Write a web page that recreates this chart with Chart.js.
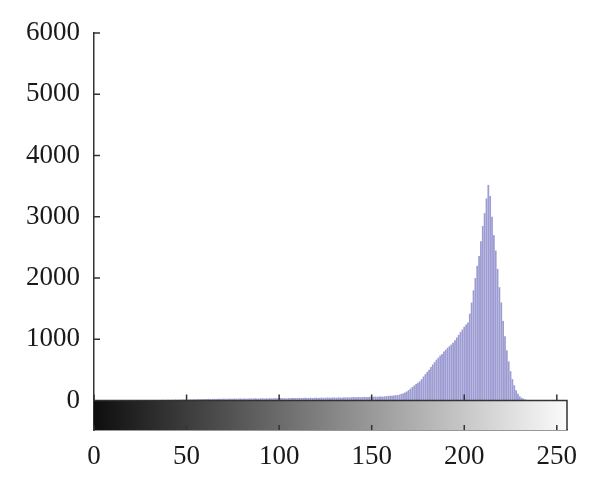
<!DOCTYPE html>
<html>
<head>
<meta charset="utf-8">
<script src="https://cdn.jsdelivr.net/npm/chart.js@4/dist/chart.umd.min.js"></script>
<style>
  html, body { margin: 0; padding: 0; background: #fff; }
  #wrap { width: 600px; height: 486px; }
</style>
</head>
<body>
<div id="wrap"><canvas id="myChart" width="600" height="486"></canvas></div>
<script>
// histogram counts for grey levels 0..255
const counts = [
  0, 0, 0, 0, 0, 0, 0, 0, 0, 0, 0, 0, 0, 0, 0, 0,
  0, 0, 0, 0, 0, 0, 0, 0, 0, 0, 0, 0, 0, 0, 3, 5,
  6, 4, 8, 10, 7, 12, 9, 11, 14, 10, 13, 12, 15, 11, 16, 14,
  17, 15, 19, 16, 20, 18, 22, 19, 24, 21, 25, 23, 26, 24, 28, 25,
  27, 30, 26, 29, 31, 28, 32, 30, 27, 33, 31, 29, 34, 30, 32, 35,
  31, 36, 33, 30, 37, 34, 32, 38, 35, 33, 36, 39, 34, 37, 35, 40,
  36, 38, 41, 37, 39, 42, 38, 40, 36, 43, 39, 41, 44, 40, 42, 45,
  41, 43, 46, 42, 44, 47, 43, 45, 48, 44, 46, 49, 45, 47, 50, 48,
  46, 51, 49, 47, 52, 50, 48, 53, 51, 55, 52, 54, 57, 53, 56, 59,
  55, 58, 61, 57, 60, 63, 59, 62, 66, 61, 65, 68, 64, 70, 73, 76,
  80, 78, 85, 90, 88, 98, 110, 118, 132, 150, 172, 196, 222, 248, 272, 292,
  315, 350, 392, 430, 470, 505, 548, 590, 628, 668, 700, 735, 762, 800, 830, 862,
  888, 915, 945, 985, 1030, 1075, 1120, 1160, 1205, 1240, 1275, 1420, 1600, 1800, 2000, 2200,
  2360, 2600, 2850, 3060, 3300, 3520, 3340, 3000, 2700, 2450, 2150, 1850, 1600, 1300, 1050, 820,
  640, 480, 350, 250, 170, 110, 70, 45, 30, 18, 10, 5, 0, 0, 0, 0,
  0, 0, 0, 0, 0, 0, 0, 0, 0, 0, 0, 0, 0, 0, 0, 0
];
const greyLevels = counts.map((c, i) => i);
const xTicks = [0, 50, 100, 150, 200, 250];
const yTicks = [0, 1000, 2000, 3000, 4000, 5000, 6000];

const axisColor = "#333";

// grey ramp under the zero line, plus box and inward tick marks
const rampPlugin = {
  id: "ramp",
  beforeDatasetsDraw(chart) {
    const { ctx, chartArea, scales } = chart;
    const left = chartArea.left, right = chartArea.right;
    const top = scales.y.getPixelForValue(0), bottom = chartArea.bottom;
    const grad = ctx.createLinearGradient(left, 0, right, 0);
    grad.addColorStop(0, "#0e0e0e");
    grad.addColorStop(1, "#fbfbfb");
    ctx.save();
    ctx.fillStyle = grad;
    ctx.fillRect(left, top, right - left, bottom - top);
    ctx.restore();
  },
  afterDatasetsDraw(chart) {
    const { ctx, chartArea, scales } = chart;
    const x = scales.x, y = scales.y;
    const left = chartArea.left, right = chartArea.right;
    const top = y.getPixelForValue(0), bottom = chartArea.bottom;
    ctx.save();
    ctx.strokeStyle = axisColor;
    ctx.lineWidth = 1.5;
    ctx.beginPath();
    ctx.moveTo(left, top);
    ctx.lineTo(right, top);
    ctx.lineTo(right, bottom);
    xTicks.forEach((v) => {
      const px = x.getPixelForValue(v);
      ctx.moveTo(px, top - 6);
      ctx.lineTo(px, top);
      ctx.moveTo(px, bottom - 5);
      ctx.lineTo(px, bottom);
    });
    yTicks.forEach((v) => {
      const py = y.getPixelForValue(v);
      ctx.moveTo(left, py);
      ctx.lineTo(left + 6, py);
    });
    ctx.stroke();
    ctx.restore();
  },
};

const ctx = document.getElementById("myChart").getContext("2d");
new Chart(ctx, {
  type: "bar",
  data: {
    datasets: [
      {
        data: counts.map((c, i) => ({ x: greyLevels[i], y: c })),
        backgroundColor: "rgb(156, 156, 211)",
        borderWidth: 0,
        barPercentage: 0.95,
        categoryPercentage: 1,
      },
    ],
  },
  plugins: [rampPlugin],
  options: {
    responsive: false,
    animation: false,
    layout: { padding: { top: 33, right: 33, left: 0, bottom: 0 } },
    plugins: { legend: { display: false }, tooltip: { enabled: false } },
    scales: {
      x: {
        type: "linear",
        min: 0,
        max: 255.5,
        offset: false,
        afterBuildTicks: (s) => { s.ticks = xTicks.map((v) => ({ value: v })); },
        afterFit: (s) => { s.height = 56; },
        grid: { display: false, drawTicks: false },
        border: { display: true, color: axisColor, width: 1.5 },
        ticks: {
          padding: 11,
          maxRotation: 0,
          autoSkip: false,
          color: "#1a1a1a",
          font: { family: "Liberation Serif", size: 27 },
          callback: (v) => String(v),
        },
      },
      y: {
        min: -480,
        max: 6000,
        afterBuildTicks: (s) => { s.ticks = yTicks.map((v) => ({ value: v })); },
        afterFit: (s) => { s.width = 94; },
        grid: { display: false, drawTicks: false },
        border: { display: true, color: axisColor, width: 1.5 },
        ticks: {
          padding: 14,
          autoSkip: false,
          color: "#1a1a1a",
          font: { family: "Liberation Serif", size: 27 },
          callback: (v) => String(v),
        },
      },
    },
  },
});
</script>
</body>
</html>
